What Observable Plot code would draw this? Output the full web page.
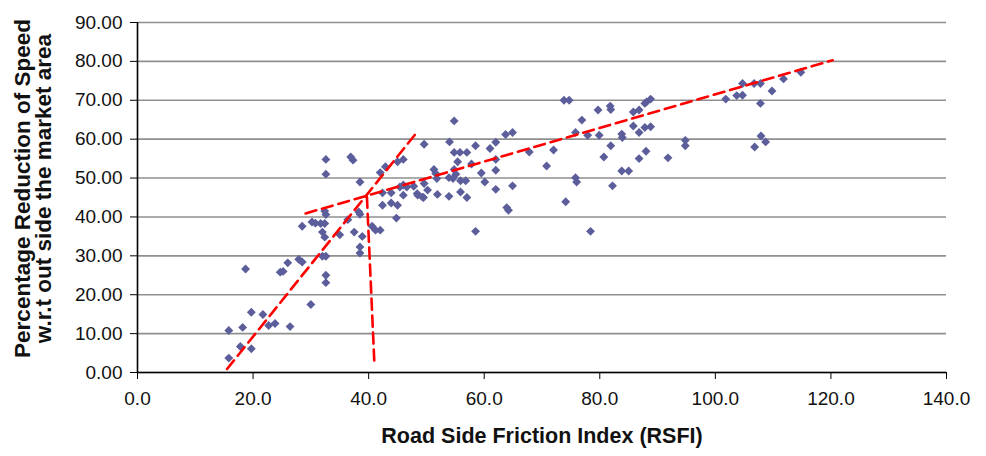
<!DOCTYPE html>
<html>
<head>
<meta charset="utf-8">
<script src="https://cdn.jsdelivr.net/npm/d3@7"></script>
<script src="https://cdn.jsdelivr.net/npm/@observablehq/plot@0.6"></script>
<style>
  html, body { margin: 0; padding: 0; background: #fff; }
  svg { font-family: "Liberation Sans", Arial, sans-serif; }
</style>
</head>
<body>
<div id="chart"></div>
<script>
// RSFI (x) and percentage reduction of speed (y) for each observation
const rsfi = [
  15.8,15.8,17.8,18.2,19.7,19.7,18.7,21.7,22.7,23.8,26.4,24.7,25.2,26.0,27.9,28.5,30.0,32.0,32.6,32.6,32.6,
  28.5,30.2,30.8,31.7,32.4,32.4,32.6,32.0,32.4,32.6,32.6,
  35.0,36.4,37.5,38.9,38.3,38.5,38.5,38.5,36.9,37.3,38.5,
  40.6,41.2,42.0,42.4,43.9,45.4,46.0,46.6,47.8,48.5,42.4,43.9,45.0,44.8,42.0,42.9,45.0,46.0,46.0,
  49.6,48.4,49.3,49.6,50.2,49.5,51.3,51.6,51.8,51.9,53.9,53.9,54.6,
  54.8,55.1,55.4,54.8,54.0,54.8,55.8,57.0,58.5,61.0,62.0,63.7,64.9,57.8,59.5,62.0,62.0,
  55.9,56.8,60.1,55.9,57.0,62.0,64.9,63.9,64.2,58.5,67.8,72.0,70.8,74.1,78.4,
  73.8,74.7,75.8,76.9,77.9,79.7,75.8,76.0,
  79.9,81.8,81.9,80.7,81.9,82.2,83.8,83.9,83.8,85.0,85.8,86.8,85.8,86.8,87.8,88.1,88.8,87.8,88.8,86.8,88.0,91.8,94.8,94.8,
  101.8,103.7,104.7,104.7,106.7,107.8,107.8,106.8,107.9,108.7,109.8,111.8,114.8
];
const reduction = [
  3.7,10.8,6.7,11.6,6.1,15.5,26.6,14.9,12.1,12.6,11.8,25.8,26.0,28.2,29.1,28.4,17.5,29.9,29.9,25.0,23.1,
  37.6,38.7,38.4,38.3,38.3,41.5,40.6,36.1,34.8,54.8,51.0,
  35.4,39.3,36.1,35.0,41.3,40.7,32.3,30.7,55.4,54.6,49.0,
  37.6,36.6,36.6,46.2,46.2,47.7,45.6,47.7,47.9,45.6,43.0,43.6,43.0,39.7,51.4,52.9,54.2,54.8,48.2,
  58.7,46.0,45.1,48.6,46.9,45.0,52.2,51.2,49.9,45.8,45.3,50.1,49.9,
  52.2,51.0,54.2,64.7,59.3,56.6,56.6,56.6,58.3,57.6,59.2,61.2,61.7,53.6,51.3,52.0,54.8,
  49.3,49.3,49.0,46.4,45.0,47.1,48.0,42.4,41.7,36.3,56.7,57.2,53.1,43.9,36.3,
  70.0,70.0,61.7,64.9,61.0,67.5,50.1,49.0,
  61.0,68.5,67.6,55.4,58.3,48.0,61.3,60.4,51.8,51.8,67.0,67.5,63.4,61.7,69.2,69.6,70.3,63.0,63.2,55.0,56.9,55.2,59.7,58.3,
  70.3,71.2,71.3,74.3,74.3,74.3,69.2,58.0,60.8,59.3,72.4,75.5,77.2
];

// Fitted red dashed lines (start and end points)
const lineSteepX = [15.5, 48.1];
const lineSteepY = [0.9, 61.3];
const lineFlatX = [29.1, 120.3];
const lineFlatY = [40.9, 80.3];
const lineDropX = [39.7, 41.0];
const lineDropY = [45.2, 2.2];

const xTicks = [0, 20, 40, 60, 80, 100, 120, 140];
const yTicks = [0, 10, 20, 30, 40, 50, 60, 70, 80, 90];

const xTitle = "Road Side Friction Index (RSFI)";
const yTitle = "Percentage Reduction of Speed\nw.r.t out side the market area";

const points = rsfi.map((x, i) => ({x, y: reduction[i]}));
const toPts = (xs, ys) => xs.map((x, i) => ({x, y: ys[i]}));

const dashStyle = {x: "x", y: "y", stroke: "#ff0000", strokeWidth: 2.6, strokeDasharray: "11,6"};

const chart = Plot.plot({
  width: 986,
  height: 456,
  marginLeft: 137,
  marginRight: 40,
  marginTop: 22,
  marginBottom: 84,
  style: {fontFamily: "'Liberation Sans', Arial, sans-serif", background: "#fff", color: "#111"},
  x: {domain: [0, 140]},
  y: {domain: [0, 90]},
  marks: [
    Plot.gridY(yTicks, {stroke: "#8f8f8f", strokeOpacity: 1, strokeWidth: 1.6}),
    Plot.axisY(yTicks, {tickFormat: d3.format(".2f"), tickSize: 7, tickPadding: 8, fontSize: 19, label: null, stroke: "#000"}),
    Plot.axisX(xTicks, {tickFormat: d3.format(".1f"), tickSize: 7, tickPadding: 12, fontSize: 19, label: null, stroke: "#000"}),
    Plot.ruleX([0], {stroke: "#000", strokeWidth: 1.6}),
    Plot.ruleY([0], {stroke: "#000", strokeWidth: 1.6}),
    Plot.dot(points, {x: "x", y: "y", symbol: "diamond2", r: 4, fill: "#5b5e9a", stroke: "none"}),
    Plot.line(toPts(lineSteepX, lineSteepY), dashStyle),
    Plot.line(toPts(lineFlatX, lineFlatY), dashStyle),
    Plot.line(toPts(lineDropX, lineDropY), dashStyle),
    Plot.text([xTitle], {frameAnchor: "bottom", dy: 70, fontWeight: "bold", fontSize: 21.5, fill: "#111"}),
    Plot.text([yTitle], {frameAnchor: "left", textAnchor: "middle", dx: -104, dy: -9, rotate: -90, fontWeight: "bold", fontSize: 22.5, lineHeight: 0.95, fill: "#111"})
  ]
});
document.getElementById("chart").appendChild(chart);
</script>
</body>
</html>
